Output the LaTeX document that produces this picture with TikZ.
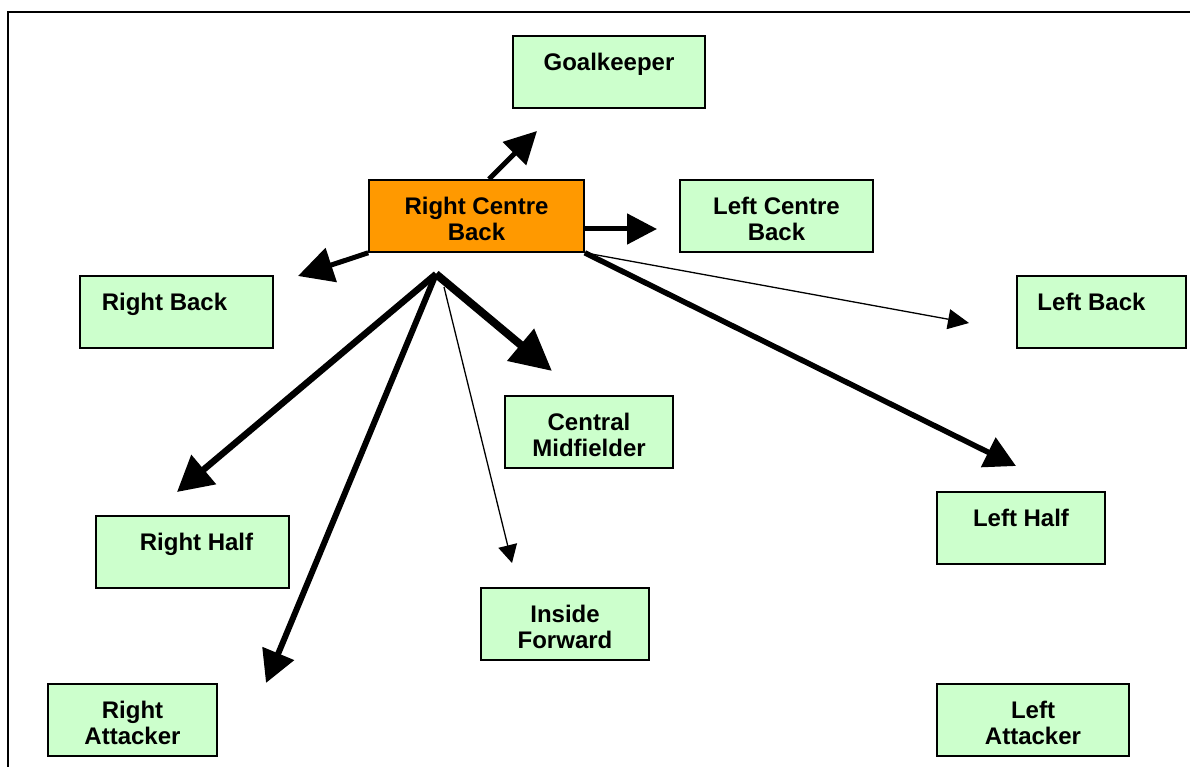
\documentclass[tikz,border=0pt]{standalone}
\usepackage{fontspec}
\setmainfont{Liberation Sans}
\usetikzlibrary{arrows.meta,calc}
\definecolor{boxgreen}{HTML}{CCFFCC}
\definecolor{boxorange}{HTML}{FF9900}
\tikzset{
  box/.style={draw=black, line width=1.6pt, fill=boxgreen, inner sep=0pt, minimum height=72pt},
  hotbox/.style={box, fill=boxorange},
  lbl/.style={anchor=north, inner sep=0pt, align=center, font=\fontsize{24}{26.5}\selectfont\bfseries},
  conn/.style={line width=#1, -{Triangle[length=31pt,width=31pt]}},
  thin/.style={line width=1.3pt, -{Triangle[length=20pt,width=20pt]}}
}
\begin{document}
\begin{tikzpicture}[x=1pt,y=-1pt]
\useasboundingbox (0,0) rectangle (1190,767);
% frame
\draw[line width=1.8pt] (8,767) -- (8,12) -- (1190,12);
% boxes
\node[box, minimum width=192pt] (gk) at (609,72) {};
\node[hotbox, minimum width=215pt] (rcb) at (476.5,216) {};
\node[box, minimum width=193pt] (lcb) at (776.5,216) {};
\node[box, minimum width=193pt] (rb) at (176.5,312) {};
\node[box, minimum width=169pt] (lb) at (1101.5,312) {};
\node[box, minimum width=168pt] (cm) at (589,432) {};
\node[box, minimum width=193pt] (rh) at (192.5,552) {};
\node[box, minimum width=168pt] (lh) at (1021,528) {};
\node[box, minimum width=168pt] (if) at (565,624) {};
\node[box, minimum width=169pt] (ra) at (132.5,720) {};
\node[box, minimum width=192pt] (la) at (1033,720) {};
% labels
\node[lbl] (gkt) at ([yshift=-16.5pt]gk.north) {\strut Goalkeeper};
\node[lbl] (rcbt) at ([yshift=-16.5pt]rcb.north) {\strut Right Centre\\\strut Back};
\node[lbl] (lcbt) at ([yshift=-16.5pt]lcb.north) {\strut Left Centre\\\strut Back};
\node[lbl] (rbt) at ([xshift=-12pt,yshift=-16.5pt]rb.north) {\strut Right Back};
\node[lbl] (lbt) at ([xshift=-10pt,yshift=-16.5pt]lb.north) {\strut Left Back};
\node[lbl] (cmt) at ([yshift=-16.5pt]cm.north) {\strut Central\\\strut Midfielder};
\node[lbl] (rht) at ([xshift=4pt,yshift=-16.5pt]rh.north) {\strut Right Half};
\node[lbl] (lht) at ([yshift=-16.5pt]lh.north) {\strut Left Half};
\node[lbl] (ift) at ([yshift=-16.5pt]if.north) {\strut Inside\\\strut Forward};
\node[lbl] (rat) at ([yshift=-16.5pt]ra.north) {\strut Right\\\strut Attacker};
\node[lbl] (lat) at ([yshift=-16.5pt]la.north) {\strut Left\\\strut Attacker};
% free ends of connectors
\coordinate (fan) at (436,274);
\coordinate (fan2) at (444,287);
\coordinate (gkend) at (537,131);
\coordinate (lcbend) at (657,229);
\coordinate (rbend) at (298,276);
\coordinate (cmend) at (552,371);
\coordinate (rhend) at (177,492);
\coordinate (raend) at (266,683);
\coordinate (ifend) at (512,563);
\coordinate (lbend) at (969,323);
\coordinate (lhend) at (1016,466);
% connectors
\draw[conn=5pt, -{Triangle[length=32pt,width=32pt]}] ([xshift=12.5pt]rcb.north) -- (gkend);
\draw[conn=5pt, -{Triangle[length=30pt,width=30pt]}] ([yshift=-13pt]rcb.east) -- (lcbend);
\draw[conn=5pt, -{Triangle[length=35pt,width=35pt]}] (rcb.south west) -- (rbend);
\draw[conn=8pt, -{Triangle[length=41pt,width=40pt]}] (fan) -- (cmend);
\draw[conn=6.5pt, -{Triangle[length=35pt,width=37pt]}] (fan) -- (rhend);
\draw[conn=6pt, -{Triangle[length=32pt,width=33pt]}] (fan) -- (raend);
\draw[thin, -{Triangle[length=18pt,width=19pt]}] (fan2) -- (ifend);
\draw[thin, -{Triangle[length=21pt,width=20pt]}] (rcb.south east) -- (lbend);
\draw[conn=5.5pt, -{Triangle[length=31pt,width=32pt]}] (rcb.south east) -- (lhend);
\end{tikzpicture}
\end{document}
